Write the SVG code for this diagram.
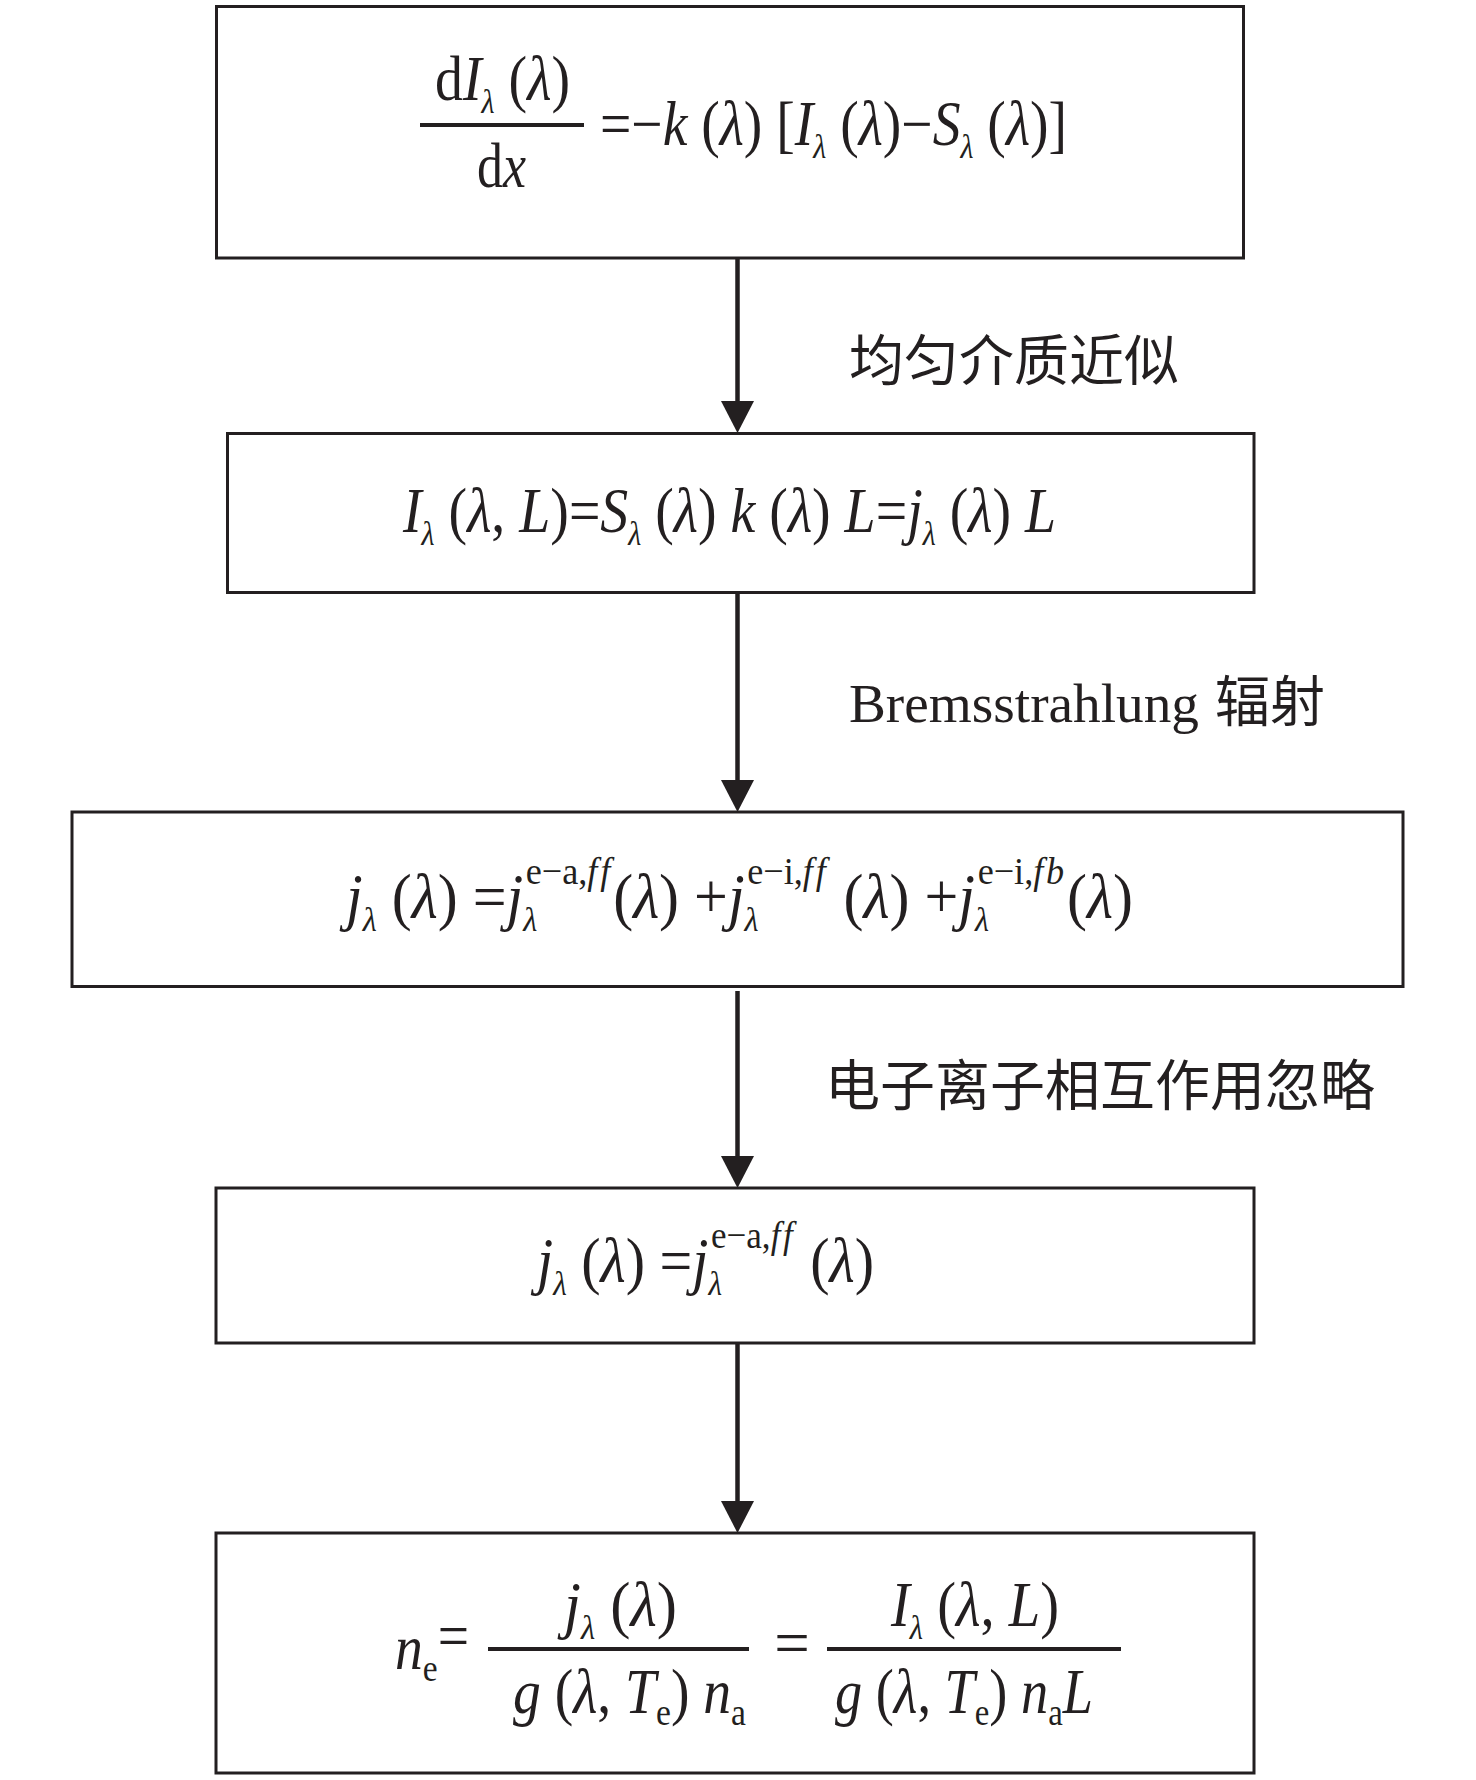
<svg xmlns="http://www.w3.org/2000/svg" width="1476" height="1780" viewBox="0 0 1476 1780">
<style>
.box{fill:#fff;stroke:#231f20;stroke-width:3}
.con{stroke:#231f20;stroke-width:4.5;fill:none}
.bar{stroke:#231f20;stroke-width:4}
.m{font-family:"Liberation Serif","Times New Roman",serif;font-size:63px;fill:#231f20;font-variant-ligatures:none}
.i{font-style:italic}
.sb{font-size:34px}
.sp{font-size:38px}
.lbl{font-family:"Liberation Serif","Noto Sans CJK SC",serif;font-size:55px;fill:#231f20}
</style>
<defs>
<marker id="ah" markerUnits="userSpaceOnUse" viewBox="0 0 32 33" refX="12" refY="16.5" markerWidth="32" markerHeight="33" orient="auto">
<path d="M0,0 L32,16.5 L0,33 z" fill="#231f20"/>
</marker>
</defs>
<rect width="1476" height="1780" fill="#fff"/>

<g id="connectors">
<line class="con" x1="737.5" y1="258" x2="737.5" y2="413" marker-end="url(#ah)"/>
<line class="con" x1="737.5" y1="593" x2="737.5" y2="792" marker-end="url(#ah)"/>
<line class="con" x1="737.5" y1="991" x2="737.5" y2="1168" marker-end="url(#ah)"/>
<line class="con" x1="737.5" y1="1343" x2="737.5" y2="1513" marker-end="url(#ah)"/>
<text class="lbl" x="849" y="380">均匀介质近似</text>
<text class="lbl" x="849" y="722" font-size="66" textLength="350" lengthAdjust="spacingAndGlyphs">Bremsstrahlung</text>
<text class="lbl" x="1215" y="721">辐射</text>
<text class="lbl" x="825" y="1105">电子离子相互作用忽略</text>
</g>

<g id="node1">
<rect class="box" x="216.5" y="6.5" width="1027" height="251.5"/>
<text class="m" x="435" y="100" textLength="135" lengthAdjust="spacingAndGlyphs">d<tspan class="i">I</tspan><tspan class="sb i" dy="13">λ</tspan><tspan dy="-13"> (</tspan><tspan class="i">λ</tspan>)</text>
<line class="bar" x1="420" y1="125" x2="584" y2="125"/>
<text class="m" x="477" y="187" textLength="49" lengthAdjust="spacingAndGlyphs">d<tspan class="i">x</tspan></text>
<text class="m" x="600" y="145" textLength="467" lengthAdjust="spacingAndGlyphs">=−<tspan class="i">k</tspan> (<tspan class="i">λ</tspan>) [<tspan class="i">I</tspan><tspan class="sb i" dy="13">λ</tspan><tspan dy="-13"> (</tspan><tspan class="i">λ</tspan>)−<tspan class="i">S</tspan><tspan class="sb i" dy="13">λ</tspan><tspan dy="-13"> (</tspan><tspan class="i">λ</tspan>)]</text>
</g>

<g id="node2">
<rect class="box" x="227.5" y="433.5" width="1026.5" height="159"/>
<text class="m" x="403" y="532" textLength="653" lengthAdjust="spacingAndGlyphs"><tspan class="i">I</tspan><tspan class="sb i" dy="13">λ</tspan><tspan dy="-13"> (</tspan><tspan class="i">λ</tspan>, <tspan class="i">L</tspan>)=<tspan class="i">S</tspan><tspan class="sb i" dy="13">λ</tspan><tspan dy="-13"> (</tspan><tspan class="i">λ</tspan>) <tspan class="i">k</tspan> (<tspan class="i">λ</tspan>) <tspan class="i">L</tspan>=<tspan class="i">j</tspan><tspan class="sb i" dy="13">λ</tspan><tspan dy="-13"> (</tspan><tspan class="i">λ</tspan>) <tspan class="i">L</tspan></text>
</g>

<g id="node3">
<rect class="box" x="72" y="812" width="1331" height="174.5"/>
<text class="m" x="346" y="918" textLength="787" lengthAdjust="spacingAndGlyphs"><tspan class="i">j</tspan><tspan class="sb i" dy="13">λ</tspan><tspan dy="-13"> (</tspan><tspan class="i">λ</tspan>) =<tspan class="i">j</tspan><tspan class="sb i" dy="13">λ</tspan><tspan class="sp" dx="-12" dy="-47">e−a,</tspan><tspan class="sp i" letter-spacing="3">ff</tspan><tspan dy="34">(</tspan><tspan class="i">λ</tspan>) +<tspan class="i">j</tspan><tspan class="sb i" dy="13">λ</tspan><tspan class="sp" dx="-12" dy="-47">e−i,</tspan><tspan class="sp i" letter-spacing="3">ff</tspan><tspan dy="34"> (</tspan><tspan class="i">λ</tspan>) +<tspan class="i">j</tspan><tspan class="sb i" dy="13">λ</tspan><tspan class="sp" dx="-12" dy="-47">e−i,</tspan><tspan class="sp i" letter-spacing="3">fb</tspan><tspan dy="34">(</tspan><tspan class="i">λ</tspan>)</text>
</g>

<g id="node4">
<rect class="box" x="216" y="1188" width="1038" height="155"/>
<text class="m" x="537" y="1282" textLength="337" lengthAdjust="spacingAndGlyphs"><tspan class="i">j</tspan><tspan class="sb i" dy="13">λ</tspan><tspan dy="-13"> (</tspan><tspan class="i">λ</tspan>) =<tspan class="i">j</tspan><tspan class="sb i" dy="13">λ</tspan><tspan class="sp" dx="-12" dy="-47">e−a,</tspan><tspan class="sp i" letter-spacing="3">ff</tspan><tspan dy="34"> (</tspan><tspan class="i">λ</tspan>)</text>
</g>

<g id="node5">
<rect class="box" x="216" y="1533" width="1038" height="240"/>
<text class="m" x="395" y="1669" textLength="74" lengthAdjust="spacingAndGlyphs"><tspan class="i">n</tspan><tspan class="sp" dy="12">e</tspan><tspan dy="-24">=</tspan></text>
<text class="m" x="564" y="1626" textLength="113" lengthAdjust="spacingAndGlyphs"><tspan class="i">j</tspan><tspan class="sb i" dy="13">λ</tspan><tspan dy="-13"> (</tspan><tspan class="i">λ</tspan>)</text>
<line class="bar" x1="488" y1="1649" x2="749" y2="1649"/>
<text class="m" x="513" y="1713" textLength="233" lengthAdjust="spacingAndGlyphs"><tspan class="i">g</tspan> (<tspan class="i">λ</tspan>, <tspan class="i">T</tspan><tspan class="sp" dy="12">e</tspan><tspan dy="-12">) </tspan><tspan class="i">n</tspan><tspan class="sp" dy="12">a</tspan></text>
<text class="m" x="792" y="1664" text-anchor="middle">=</text>
<text class="m" x="891" y="1626" textLength="168" lengthAdjust="spacingAndGlyphs"><tspan class="i">I</tspan><tspan class="sb i" dy="13">λ</tspan><tspan dy="-13"> (</tspan><tspan class="i">λ</tspan>, <tspan class="i">L</tspan>)</text>
<line class="bar" x1="827" y1="1649" x2="1121" y2="1649"/>
<text class="m" x="835" y="1713" textLength="258" lengthAdjust="spacingAndGlyphs"><tspan class="i">g</tspan> (<tspan class="i">λ</tspan>, <tspan class="i">T</tspan><tspan class="sp" dy="12">e</tspan><tspan dy="-12">) </tspan><tspan class="i">n</tspan><tspan class="sp" dy="12">a</tspan><tspan class="i" dy="-12">L</tspan></text>
</g>
</svg>
